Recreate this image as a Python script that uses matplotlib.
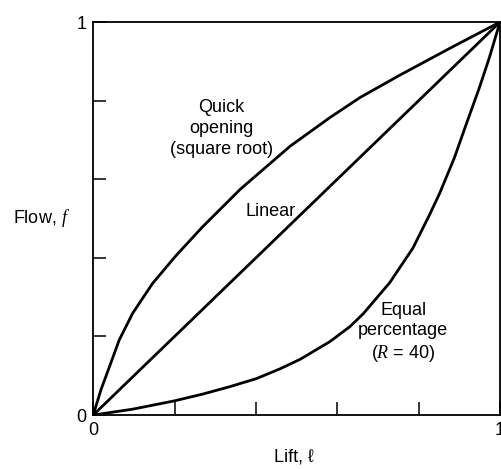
import matplotlib as mpl
import matplotlib.pyplot as plt

# values
lift_quick = [0, 0.019, 0.040, 0.064, 0.097, 0.146, 0.203, 0.268, 0.362, 0.484, 0.582, 0.656, 0.754, 0.88, 1.0]
flow_quick = [0, 0.064, 0.123, 0.191, 0.259, 0.335, 0.405, 0.478, 0.575, 0.684, 0.757, 0.808, 0.865, 0.935, 1.0]

lift_linear = [0, 1.0]
flow_linear = [0, 1.0]

lift_equal = [0, 0.097, 0.199, 0.268, 0.335, 0.402, 0.460, 0.509, 0.582, 0.631, 0.664, 0.729,
              0.786, 0.827, 0.852, 0.888, 0.917, 0.95, 0.974, 1.0]
flow_equal = [0, 0.015, 0.036, 0.053, 0.072, 0.093, 0.118, 0.142, 0.187, 0.225, 0.258, 0.337,
              0.425, 0.51, 0.565, 0.655, 0.74, 0.835, 0.91, 1.0]

tick_pos = [0, 0.2, 0.4, 0.6, 0.8, 1.0]
tick_labels = ['0', '', '', '', '', '1']

mpl.rcParams.update({
    'font.family': ['Liberation Sans', 'DejaVu Sans'],
    'font.size': 13,
    'mathtext.fontset': 'custom',
    'mathtext.it': 'Liberation Serif:italic',
    'mathtext.rm': 'Liberation Sans',
})

fig = plt.figure(figsize=(5.01, 4.69), dpi=100)
ax = fig.add_axes([0.186, 0.115, 0.812, 0.838])

for x, y in [(lift_quick, flow_quick), (lift_linear, flow_linear), (lift_equal, flow_equal)]:
    ax.plot(x, y, color='black', lw=2.0, solid_joinstyle='round', solid_capstyle='round')

ax.set_xlim(0, 1)
ax.set_ylim(0, 1)
ax.set_xticks(tick_pos)
ax.set_xticklabels(tick_labels)
ax.set_yticks(tick_pos)
ax.set_yticklabels(tick_labels)
ax.tick_params(direction='in', length=9.5, width=1.1, pad=5, labelsize=13)
for s in ax.spines.values():
    s.set_linewidth(1.3)

ax.text(0.316, 0.730, 'Quick\nopening\n(square root)', ha='center', va='center',
        fontsize=13, linespacing=1.3)
ax.text(0.435, 0.517, 'Linear', ha='center', va='center', fontsize=13)
ax.text(0.762, 0.209, 'Equal\npercentage\n($R$ = 40)', ha='center', va='center',
        fontsize=13, linespacing=1.25)

fig.text(13 / 501, 1 - 218 / 469, 'Flow, $f$', ha='left', va='center', fontsize=13)
fig.text(294 / 501, 1 - 457 / 469, 'Lift, ℓ', ha='center', va='center', fontsize=13)

plt.savefig('out.png', dpi=100)
